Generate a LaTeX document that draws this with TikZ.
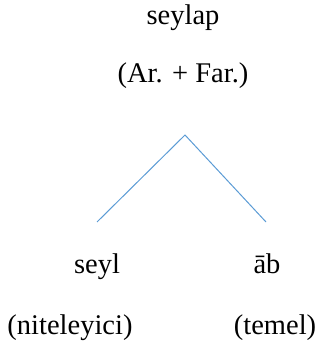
\documentclass[tikz,border=0pt]{standalone}
\usepackage{fontspec}
\setmainfont{Liberation Serif}
\definecolor{branchblue}{HTML}{5B9BD5}
\begin{document}
\begin{tikzpicture}[x=1pt, y=-1pt,
  word/.style={font=\fontsize{28.5}{34}\selectfont, inner sep=0pt, anchor=base},
  branch/.style={draw=branchblue, line width=1pt}
]
\useasboundingbox (0,0) rectangle (326,347);
\node[word] (root) at (183,25) {seylap};
\node[word] (origin) at (183,83) {(Ar. + Far.)};
\coordinate (apex) at (185,135);
\coordinate (leftend) at (97,222);
\coordinate (rightend) at (266,222);
\draw[branch] (leftend) -- (apex) -- (rightend);
\foreach \n/\x/\gx/\w/\g in {left/97/70/seyl/niteleyici, right/267/275/\={a}b/temel} {
  \node[word] (\n word) at (\x,273) {\w};
  \node[word] (\n gloss) at (\gx,334) {(\g)};
}
\end{tikzpicture}
\end{document}
